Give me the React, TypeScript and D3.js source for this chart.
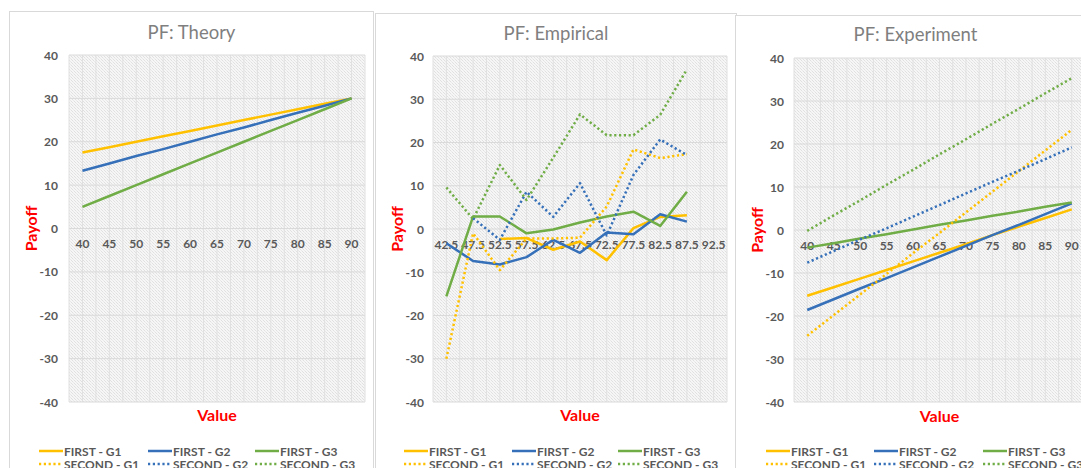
import React from "react";
import * as d3 from "d3";

// ---------- DATA ----------
const theoryCats = ["40", "45", "50", "55", "60", "65", "70", "75", "80", "85", "90"];
const theoryFirstG1 = [17.5, 18.75, 20, 21.25, 22.5, 23.75, 25, 26.25, 27.5, 28.75, 30];
const theoryFirstG2 = [13.3, 15, 16.7, 18.3, 20, 21.7, 23.3, 25, 26.7, 28.3, 30];
const theoryFirstG3 = [5, 7.5, 10, 12.5, 15, 17.5, 20, 22.5, 25, 27.5, 30];

const empCats = ["42.5", "47.5", "52.5", "57.5", "62.5", "67.5", "72.5", "77.5", "82.5", "87.5", "92.5"];
const empFirstG1 = [null, null, -2.3, -2.1, -4.8, -2.9, -7.2, 0.2, 2.8, 3.2, null];
const empFirstG2 = [-3.3, -7.4, -8.2, -6.5, -2.5, -5.5, -0.8, -1.2, 3.4, 1.7, null];
const empFirstG3 = [-15.6, 2.9, 2.9, -1.0, -0.1, 1.5, 2.9, 4.0, 0.7, 8.6, null];
const empSecondG1 = [-30, -1, -9.5, -2.2, -2.2, -2.0, 5.2, 18.4, 16.4, 17.3, null];
const empSecondG2 = [null, 2.5, -2.5, 8.6, 2.8, 10.6, -1.5, 12.5, 20.7, 17.1, null];
const empSecondG3 = [9.6, 2.3, 14.8, 6.7, 16.5, 26.5, 21.7, 21.7, 26.4, 36.9, null];

const expCats = ["40", "45", "50", "55", "60", "65", "70", "75", "80", "85", "90"];
const expFirstG1 = [-15.3, -13.3, -11.3, -9.3, -7.3, -5.3, -3.3, -1.2, 0.8, 2.8, 4.8];
const expFirstG2 = [-18.6, -16.1, -13.6, -11.2, -8.7, -6.2, -3.7, -1.2, 1.2, 3.7, 6.2];
const expFirstG3 = [-4.1, -3.1, -2.0, -1.0, 0.1, 1.2, 2.2, 3.3, 4.3, 5.4, 6.4];
const expSecondG1 = [-24.6, -19.8, -15.0, -10.2, -5.4, -0.7, 4.1, 8.9, 13.7, 18.5, 23.3];
const expSecondG2 = [-7.6, -4.9, -2.2, 0.4, 3.1, 5.8, 8.5, 11.2, 13.8, 16.5, 19.2];
const expSecondG3 = [-0.2, 3.4, 6.9, 10.5, 14.0, 17.6, 21.1, 24.7, 28.2, 31.8, 35.3];

const yTicks = [40, 30, 20, 10, 0, -10, -20, -30, -40];
const legendNames = ["FIRST - G1", "FIRST - G2", "FIRST - G3", "SECOND - G1", "SECOND - G2", "SECOND - G3"];

// ---------- STYLE ----------
const COLORS = ["#FFC000", "#3570B9", "#70AD47"];
const FONT = "Lato, 'Open Sans', sans-serif";
const GREY = "#595959";

type Series = { name: string; color: string; dotted: boolean; values: (number | null)[] };

const mk = (vals: (number | null)[][]): Series[] =>
  vals.map((v, i) => ({
    name: legendNames[i],
    color: COLORS[i % 3],
    dotted: i >= 3,
    values: v,
  }));

const panels = [
  {
    id: "t",
    title: "PF: Theory",
    cats: theoryCats,
    series: mk([theoryFirstG1, theoryFirstG2, theoryFirstG3, [], [], []]),
    border: { x0: 9.5, x1: 373.5, y0: 11.5 },
    plot: { x0: 69, x1: 365, y0: 55, y1: 402 },
    yLabelRight: 58,
    payoffX: 30,
    titleY: 32,
    valueY: 414,
    legendX: [39, 148, 255],
  },
  {
    id: "e",
    title: "PF: Empirical",
    cats: empCats,
    series: mk([empFirstG1, empFirstG2, empFirstG3, empSecondG1, empSecondG2, empSecondG3]),
    border: { x0: 375.5, x1: 736.5, y0: 13.5 },
    plot: { x0: 433, x1: 727, y0: 56, y1: 402 },
    yLabelRight: 424,
    payoffX: 396,
    titleY: 33,
    valueY: 414,
    legendX: [404, 512, 618],
  },
  {
    id: "x",
    title: "PF: Experiment",
    cats: expCats,
    series: mk([expFirstG1, expFirstG2, expFirstG3, expSecondG1, expSecondG2, expSecondG3]),
    border: { x0: 735.5, x1: 1095.5, y0: 15.5 },
    plot: { x0: 794, x1: 1085, y0: 58, y1: 402 },
    yLabelRight: 784,
    payoffX: 756,
    titleY: 34,
    valueY: 415,
    legendX: [766, 874, 983],
  },
];

function Panel({ p }: { p: (typeof panels)[number] }) {
  const x = d3.scaleBand<string>().domain(p.cats).range([p.plot.x0, p.plot.x1]).padding(0);
  const y = d3.scaleLinear().domain([-40, 40]).range([p.plot.y1, p.plot.y0]);
  const bw = x.bandwidth();
  const cx = (c: string) => (x(c) as number) + bw / 2;
  const line = d3
    .line<number | null>()
    .defined((d) => d != null)
    .x((_, i) => cx(p.cats[i]))
    .y((d) => y(d as number));

  const vLines: number[] = [];
  p.cats.forEach((c) => {
    vLines.push(x(c) as number);
    vLines.push(cx(c));
  });
  vLines.push(p.plot.x1);

  const titleX = (p.border.x0 + p.border.x1) / 2;
  const plotCX = (p.plot.x0 + p.plot.x1) / 2;
  const plotCY = (p.plot.y0 + p.plot.y1) / 2;

  return (
    <g>
      <rect
        x={p.border.x0}
        y={p.border.y0}
        width={p.border.x1 - p.border.x0}
        height={480}
        fill="#fff"
        stroke="#d9d9d9"
        strokeWidth={1}
      />
      <text x={titleX} y={p.titleY} textAnchor="middle" dominantBaseline="central" fontSize={18.5} fill="#7f7f7f" fontFamily={FONT}>
        {p.title}
      </text>
      <rect
        x={p.plot.x0}
        y={p.plot.y0}
        width={p.plot.x1 - p.plot.x0}
        height={p.plot.y1 - p.plot.y0}
        fill="url(#hatch)"
      />
      {vLines.map((vx, i) => (
        <line key={"v" + i} x1={vx} x2={vx} y1={p.plot.y0} y2={p.plot.y1} stroke="#e0e0e0" strokeWidth={1} />
      ))}
      {yTicks.map((t) => (
        <line key={"h" + t} x1={p.plot.x0} x2={p.plot.x1} y1={y(t)} y2={y(t)} stroke="#dadada" strokeWidth={1} />
      ))}
      {yTicks.map((t) => (
        <text
          key={"yl" + t}
          x={p.yLabelRight}
          y={y(t)}
          textAnchor="end"
          dominantBaseline="central"
          fontSize={12}
          fontWeight={700}
          fill={GREY}
          fontFamily={FONT}
        >
          {t}
        </text>
      ))}
      {p.cats.map((c) => (
        <text
          key={"xl" + c}
          x={cx(c)}
          y={y(0) + 15}
          textAnchor="middle"
          dominantBaseline="central"
          fontSize={12}
          fontWeight={700}
          fill={GREY}
          fontFamily={FONT}
        >
          {c}
        </text>
      ))}
      {p.series.map((s) =>
        s.values.length ? (
          <path
            key={s.name}
            d={line(s.values) || ""}
            fill="none"
            stroke={s.color}
            strokeWidth={2.5}
            strokeDasharray={s.dotted ? "2.2 2.6" : undefined}
            strokeLinejoin="round"
          />
        ) : null
      )}
      <text
        transform={`translate(${p.payoffX},${plotCY}) rotate(-90)`}
        textAnchor="middle"
        dominantBaseline="central"
        fontSize={16}
        fontWeight={700}
        fill="#ff0000"
        fontFamily={FONT}
      >
        Payoff
      </text>
      <text x={plotCX} y={p.valueY} textAnchor="middle" dominantBaseline="central" fontSize={16} fontWeight={700} fill="#ff0000" fontFamily={FONT}>
        Value
      </text>
      {p.series.map((s, i) => {
        const lx = p.legendX[i % 3];
        const ly = i < 3 ? 451 : 464;
        return (
          <g key={"lg" + i}>
            <line
              x1={lx}
              x2={lx + 24}
              y1={ly}
              y2={ly}
              stroke={s.color}
              strokeWidth={2.5}
              strokeDasharray={s.dotted ? "2.2 2.6" : undefined}
            />
            <text x={lx + 25} y={ly} dominantBaseline="central" fontSize={12} fontWeight={700} fill={GREY} fontFamily={FONT}>
              {s.name}
            </text>
          </g>
        );
      })}
    </g>
  );
}

export default function App() {
  return (
    <svg
      width={1081}
      height={468}
      style={{ position: "absolute", left: 0, top: 0, display: "block", background: "#fff" }}
    >
      <defs>
        <pattern id="hatch" width={3} height={3} patternUnits="userSpaceOnUse">
          <rect width={3} height={3} fill="#f6f6f6" />
          <rect x={0} y={0} width={1} height={1} fill="#e0e0e0" />
          <rect x={1} y={1} width={1} height={1} fill="#e9e9e9" />
          <rect x={2} y={2} width={1} height={1} fill="#e0e0e0" />
        </pattern>
      </defs>
      {panels.map((p) => (
        <Panel key={p.id} p={p} />
      ))}
    </svg>
  );
}
